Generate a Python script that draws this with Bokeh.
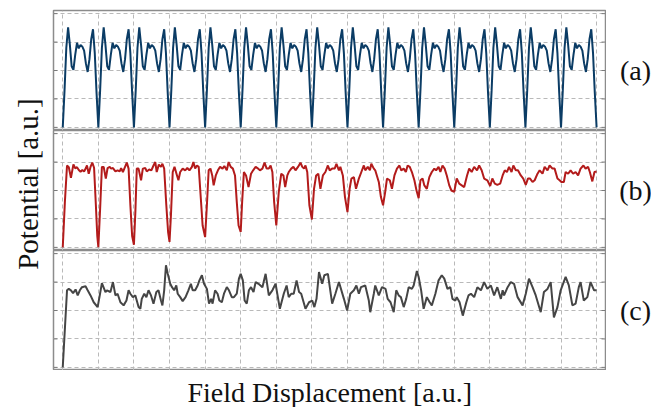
import numpy as np
from bokeh.plotting import figure
from bokeh.layouts import row, column
from bokeh.models import FixedTicker, Label, Range1d
from bokeh.embed import file_html
from bokeh.resources import INLINE

# ---------------- data ----------------
x_ticks = list(range(0, 16))
y_ticks = [0, 1, 2, 3, 4]
panel_tags = ["(a)", "(b)", "(c)"]
x_label = "Field Displacement [a.u.]"
y_label = "Potential [a.u.]"

# (a) sampled every 0.05 field units
a_step = 0.05
a_y = [
    0.00, 1.30, 2.80, 3.52, 2.90, 2.15, 2.02, 2.55, 2.97, 2.78, 2.90, 2.84, 2.70, 2.25, 1.95, 2.40, 3.10, 3.45, 2.60, 1.20,
    0.00, 1.30, 2.80, 3.52, 2.90, 2.15, 2.02, 2.55, 2.97, 2.78, 2.90, 2.84, 2.70, 2.25, 1.95, 2.40, 3.10, 3.45, 2.60, 1.20,
    0.00, 1.30, 2.80, 3.52, 2.90, 2.15, 2.02, 2.55, 2.97, 2.78, 2.90, 2.84, 2.70, 2.25, 1.95, 2.40, 3.10, 3.45, 2.60, 1.20,
    0.00, 1.30, 2.80, 3.52, 2.90, 2.15, 2.02, 2.55, 2.97, 2.78, 2.90, 2.84, 2.70, 2.25, 1.95, 2.40, 3.10, 3.45, 2.60, 1.20,
    0.00, 1.30, 2.80, 3.52, 2.90, 2.15, 2.02, 2.55, 2.97, 2.78, 2.90, 2.84, 2.70, 2.25, 1.95, 2.40, 3.10, 3.45, 2.60, 1.20,
    0.00, 1.30, 2.80, 3.52, 2.90, 2.15, 2.02, 2.55, 2.97, 2.78, 2.90, 2.84, 2.70, 2.25, 1.95, 2.40, 3.10, 3.45, 2.60, 1.20,
    0.00, 1.30, 2.80, 3.52, 2.90, 2.15, 2.02, 2.55, 2.97, 2.78, 2.90, 2.84, 2.70, 2.25, 1.95, 2.40, 3.10, 3.45, 2.60, 1.20,
    0.00, 1.30, 2.80, 3.52, 2.90, 2.15, 2.02, 2.55, 2.97, 2.78, 2.90, 2.84, 2.70, 2.25, 1.95, 2.40, 3.10, 3.45, 2.60, 1.20,
    0.00, 1.30, 2.80, 3.52, 2.90, 2.15, 2.02, 2.55, 2.97, 2.78, 2.90, 2.84, 2.70, 2.25, 1.95, 2.40, 3.10, 3.45, 2.60, 1.20,
    0.00, 1.30, 2.80, 3.52, 2.90, 2.15, 2.02, 2.55, 2.97, 2.78, 2.90, 2.84, 2.70, 2.25, 1.95, 2.40, 3.10, 3.45, 2.60, 1.20,
    0.00, 1.30, 2.80, 3.52, 2.90, 2.15, 2.02, 2.55, 2.97, 2.78, 2.90, 2.84, 2.70, 2.25, 1.95, 2.40, 3.10, 3.45, 2.60, 1.20,
    0.00, 1.30, 2.80, 3.52, 2.90, 2.15, 2.02, 2.55, 2.97, 2.78, 2.90, 2.84, 2.70, 2.25, 1.95, 2.40, 3.10, 3.45, 2.60, 1.20,
    0.00, 1.30, 2.80, 3.52, 2.90, 2.15, 2.02, 2.55, 2.97, 2.78, 2.90, 2.84, 2.70, 2.25, 1.95, 2.40, 3.10, 3.45, 2.60, 1.20,
    0.00, 1.30, 2.80, 3.52, 2.90, 2.15, 2.02, 2.55, 2.97, 2.78, 2.90, 2.84, 2.70, 2.25, 1.95, 2.40, 3.10, 3.45, 2.60, 1.20,
    0.00, 1.30, 2.80, 3.52, 2.90, 2.15, 2.02, 2.55, 2.97, 2.78, 2.90, 2.84, 2.70, 2.25, 1.95, 2.40, 3.10, 3.45, 2.60, 1.20,
    0.00,
]
a_x = np.arange(len(a_y)) * a_step

# (b)
b_x = [
    0.00, 0.06, 0.12, 0.17, 0.23, 0.30, 0.35, 0.40, 0.45, 0.50, 0.55, 0.60, 0.65, 0.68, 0.73, 0.78, 0.83, 0.88, 0.93, 0.97, 1.00,
    1.05, 1.10, 1.15, 1.21, 1.26, 1.32, 1.36, 1.41, 1.48, 1.54, 1.60, 1.64, 1.69, 1.75, 1.80, 1.85, 1.90, 1.95, 2.00,
    2.04, 2.08, 2.13, 2.20, 2.25, 2.32, 2.36, 2.43, 2.49, 2.55, 2.60, 2.64, 2.70, 2.76, 2.80, 2.85, 2.91, 2.96, 3.00,
    3.04, 3.09, 3.14, 3.21, 3.25, 3.30, 3.37, 3.44, 3.50, 3.56, 3.63, 3.67, 3.72, 3.77, 3.82, 3.88, 3.93, 4.00,
    4.05, 4.10, 4.15, 4.20, 4.24, 4.30, 4.36, 4.42, 4.49, 4.54, 4.61, 4.66, 4.72, 4.78, 4.84, 4.89, 4.94, 5.00,
    5.04, 5.09, 5.15, 5.22, 5.29, 5.35, 5.42, 5.49, 5.54, 5.61, 5.67, 5.73, 5.79, 5.84, 5.89, 5.94, 6.00,
    6.07, 6.14, 6.20, 6.25, 6.31, 6.35, 6.42, 6.48, 6.54, 6.61, 6.68, 6.73, 6.78, 6.82, 6.87, 6.93, 7.00,
    7.06, 7.12, 7.18, 7.24, 7.31, 7.38, 7.45, 7.50, 7.57, 7.64, 7.69, 7.76, 7.80, 7.87, 7.93, 8.00,
    8.06, 8.11, 8.18, 8.24, 8.32, 8.39, 8.46, 8.50, 8.57, 8.63, 8.67, 8.74, 8.78, 8.88, 8.94, 9.00,
    9.06, 9.11, 9.19, 9.25, 9.32, 9.39, 9.46, 9.51, 9.58, 9.64, 9.69, 9.75, 9.81, 9.88, 9.94, 10.00,
    10.05, 10.11, 10.16, 10.23, 10.30, 10.37, 10.44, 10.49, 10.56, 10.61, 10.67, 10.73, 10.79, 10.86, 10.92, 11.00,
    11.07, 11.14, 11.21, 11.28, 11.36, 11.42, 11.49, 11.56, 11.64, 11.70, 11.77, 11.84, 11.93, 12.01,
    12.07, 12.14, 12.21, 12.29, 12.36, 12.42, 12.48, 12.54, 12.61, 12.66, 12.73, 12.79, 12.87, 12.94, 13.01,
    13.07, 13.13, 13.20, 13.26, 13.34, 13.40, 13.48, 13.54, 13.62, 13.68, 13.76, 13.82, 13.90, 13.96, 14.01,
    14.08, 14.13, 14.20, 14.27, 14.34, 14.41, 14.48, 14.55, 14.63, 14.69, 14.76, 14.81, 14.88, 14.94, 15.00,
]
b_y = [
    0.00, 1.60, 2.88, 2.82, 2.45, 2.92, 2.78, 2.82, 2.72, 2.66, 2.72, 2.67, 2.79, 2.88, 2.59, 2.83, 2.98, 2.80, 1.50, 0.40, 0.01,
    1.36, 2.83, 2.83, 2.42, 2.79, 2.83, 2.77, 2.79, 2.67, 2.71, 2.67, 2.79, 2.65, 2.83, 2.98, 2.77, 1.48, 0.40, 0.09,
    1.24, 2.77, 2.77, 2.36, 2.77, 2.79, 2.67, 2.74, 2.71, 2.88, 3.00, 2.65, 2.91, 2.83, 2.94, 2.77, 1.48, 0.54, 0.19,
    1.13, 2.65, 2.83, 2.53, 2.36, 2.65, 2.77, 2.71, 2.79, 2.71, 2.83, 3.00, 2.77, 2.88, 2.83, 1.71, 0.77, 0.36,
    1.48, 2.71, 2.77, 2.53, 2.18, 2.53, 2.71, 2.83, 2.77, 2.86, 2.71, 3.00, 2.83, 2.77, 2.53, 1.59, 0.77, 0.54,
    1.59, 2.65, 2.53, 2.12, 2.59, 2.71, 2.83, 2.77, 2.71, 2.77, 2.98, 2.77, 2.77, 2.88, 2.65, 1.59, 0.77,
    1.95, 2.59, 2.53, 2.12, 2.53, 2.65, 2.77, 2.83, 2.71, 2.83, 2.98, 2.83, 2.77, 2.88, 2.65, 1.48, 0.98,
    2.06, 2.53, 2.59, 2.06, 2.53, 2.65, 2.88, 2.71, 2.77, 2.77, 2.94, 2.71, 2.83, 2.53, 1.77, 1.24,
    2.06, 2.42, 2.47, 2.06, 2.42, 2.65, 2.88, 2.71, 2.83, 2.71, 2.94, 2.77, 2.71, 2.30, 1.77, 1.48,
    1.95, 2.42, 2.36, 2.06, 2.53, 2.77, 2.88, 2.71, 2.77, 2.65, 2.88, 2.83, 2.65, 2.36, 2.00, 1.73,
    2.36, 2.42, 2.18, 2.06, 2.47, 2.65, 2.77, 2.71, 2.83, 2.65, 2.88, 2.77, 2.53, 2.18, 2.00, 1.95,
    2.42, 2.24, 2.18, 2.12, 2.53, 2.77, 2.65, 2.83, 2.71, 2.88, 2.71, 2.42, 2.36, 2.16,
    2.42, 2.24, 2.20, 2.24, 2.53, 2.71, 2.65, 2.83, 2.65, 2.88, 2.71, 2.71, 2.53, 2.42, 2.20,
    2.42, 2.42, 2.30, 2.36, 2.59, 2.71, 2.59, 2.83, 2.71, 2.88, 2.77, 2.77, 2.42, 2.36, 2.30,
    2.30, 2.65, 2.59, 2.71, 2.59, 2.65, 2.53, 2.77, 2.88, 2.77, 2.83, 2.65, 2.32, 2.65, 2.67,
]

# (c)
c_x = [
    0.00, 0.12, 0.17, 0.23, 0.29, 0.36, 0.42, 0.48, 0.54, 0.64, 0.70, 0.78, 0.87, 0.98, 1.04, 1.10, 1.20, 1.24, 1.34, 1.41,
    1.48, 1.54, 1.62, 1.71, 1.79, 1.85, 1.90, 1.97, 2.04, 2.13, 2.18, 2.22, 2.29, 2.35, 2.41, 2.48, 2.55, 2.63, 2.69, 2.76,
    2.80, 2.85, 2.90, 2.95, 3.02, 3.07, 3.13, 3.19, 3.23, 3.30, 3.37, 3.45, 3.53, 3.60, 3.65, 3.72, 3.79, 3.84, 3.91, 3.97,
    4.05, 4.11, 4.17, 4.21, 4.28, 4.35, 4.40, 4.47, 4.53, 4.61, 4.67, 4.75, 4.81, 4.89, 4.95, 5.00, 5.06, 5.11, 5.17, 5.23,
    5.29, 5.36, 5.42, 5.50, 5.61, 5.70, 5.79, 5.89, 5.98, 6.10, 6.21, 6.29, 6.35, 6.42, 6.49, 6.57, 6.64, 6.70, 6.82, 6.92,
    7.01, 7.07, 7.13, 7.20, 7.29, 7.35, 7.45, 7.57, 7.66, 7.76, 7.90, 7.99, 8.08, 8.18, 8.25, 8.32, 8.38, 8.50, 8.60, 8.64,
    8.74, 8.78, 8.88, 8.97, 9.07, 9.13, 9.21, 9.30, 9.37, 9.44, 9.50, 9.58, 9.65, 9.72, 9.81, 9.86, 9.95, 10.00, 10.07, 10.14,
    10.23, 10.31, 10.37, 10.47, 10.56, 10.65, 10.72, 10.81, 10.89, 10.95, 11.03, 11.07, 11.15, 11.24, 11.34, 11.40, 11.47, 11.56, 11.65, 11.75,
    11.84, 11.93, 12.03, 12.12, 12.21, 12.31, 12.36, 12.40, 12.50, 12.59, 12.68, 12.78, 12.92, 13.01, 13.10, 13.20, 13.29, 13.43, 13.52, 13.62,
    13.71, 13.80, 13.90, 13.99, 14.13, 14.22, 14.32, 14.41, 14.50, 14.55, 14.64, 14.74, 14.83, 14.93, 15.00,
]
c_y = [
    0.00, 2.71, 2.76, 2.71, 2.61, 2.74, 2.53, 2.71, 2.82, 2.85, 2.71, 2.53, 2.29, 2.12, 2.53, 2.96, 2.65, 2.71, 2.65, 3.00,
    2.53, 2.59, 2.29, 2.18, 2.35, 2.71, 2.59, 2.47, 2.53, 2.12, 2.06, 2.41, 2.59, 2.47, 2.71, 2.53, 2.24, 2.65, 2.71, 2.35,
    2.18, 2.71, 3.59, 3.29, 2.94, 2.82, 2.71, 2.88, 2.59, 2.47, 2.33, 2.47, 2.71, 2.94, 2.71, 2.71, 2.88, 3.06, 3.24, 2.94,
    2.76, 2.24, 2.41, 2.24, 2.71, 2.59, 2.35, 2.29, 2.59, 2.82, 2.71, 2.47, 2.47, 2.59, 3.12, 3.29, 3.06, 2.35, 2.24, 2.71,
    2.82, 2.65, 3.00, 2.94, 2.82, 3.29, 2.53, 2.71, 2.94, 2.06, 2.59, 2.88, 2.47, 2.59, 2.59, 3.06, 2.65, 2.59, 2.06, 2.29,
    2.35, 2.12, 2.41, 3.35, 2.94, 3.24, 3.29, 2.24, 2.59, 3.00, 2.41, 2.00, 2.59, 2.71, 2.88, 2.59, 2.82, 2.88, 2.35, 1.94,
    2.59, 2.88, 2.53, 2.82, 2.76, 2.41, 2.29, 1.94, 2.71, 2.53, 2.47, 2.12, 2.41, 2.82, 2.76, 2.88, 3.39, 3.18, 2.71, 2.06,
    2.47, 2.29, 2.18, 2.59, 3.06, 3.24, 3.12, 2.76, 2.82, 2.41, 2.35, 2.47, 2.29, 1.82, 2.29, 2.53, 2.59, 2.47, 2.82, 2.71,
    3.00, 2.76, 2.88, 2.53, 2.82, 2.41, 2.71, 2.53, 2.82, 3.00, 2.94, 2.47, 2.18, 2.59, 3.12, 2.82, 2.53, 1.94, 2.65, 2.76,
    3.00, 1.76, 2.12, 2.71, 3.18, 2.88, 2.18, 2.24, 2.82, 3.00, 2.35, 2.47, 3.00, 2.71, 2.71,
]

series = [(a_x, a_y, "#0b3c65"), (b_x, b_y, "#b31b1b"), (c_x, c_y, "#454545")]

# ---------------- styling / layout ----------------
FONT = "Liberation Serif"
FS_YTITLE = "29px"
FS_XTITLE = "28px"
FS_TAG = "28px"
TEXT_COLOR = "#111111"
GRID_COLOR = "#b9b9b9"
FRAME_COLOR = "#8c8c8c"
TICK_COLOR = "#7a7a7a"
X_LO, X_HI = -0.26, 15.25
Y_LO, Y_HI = -0.11, 4.11
TOTAL_H = 407


def bare(p):
    p.grid.visible = False
    p.outline_line_color = None
    p.background_fill_color = "white"
    p.border_fill_color = "white"
    return p


heights = [130, 120, 120]
tops = [10, 0, 0]

panels = []
for i, (xs, ys, col) in enumerate(series):
    p = figure(width=558, height=heights[i],
               x_range=Range1d(X_LO, X_HI), y_range=Range1d(Y_LO, Y_HI),
               output_backend="svg", toolbar_location=None,
               x_axis_location=None, y_axis_location=None,
               min_border_left=5, min_border_right=1,
               min_border_top=tops[i], min_border_bottom=0)
    p.xgrid.ticker = FixedTicker(ticks=x_ticks)
    p.ygrid.ticker = FixedTicker(ticks=y_ticks)
    for g in (p.xgrid, p.ygrid):
        g.grid_line_color = GRID_COLOR
        g.grid_line_dash = "4 3"
        g.grid_line_width = 1
    p.outline_line_color = FRAME_COLOR
    p.outline_line_width = 1.5
    p.background_fill_color = "white"
    p.border_fill_color = "white"
    # inward tick marks on the left and right frame edges
    p.ray(x=[X_LO] * len(y_ticks), y=y_ticks, length=4, length_units="screen",
          angle=0, line_color=TICK_COLOR, line_width=1)
    p.ray(x=[X_HI] * len(y_ticks), y=y_ticks, length=4, length_units="screen",
          angle=np.pi, line_color=TICK_COLOR, line_width=1)
    p.line(xs, ys, line_color=col, line_width=2)
    panels.append(p)

# bottom axis title
bot = bare(figure(width=558, height=37, x_range=Range1d(X_LO, X_HI), y_range=Range1d(0, 37),
                  output_backend="svg", toolbar_location=None,
                  x_axis_location=None, y_axis_location=None,
                  min_border_left=5, min_border_right=1, min_border_top=0, min_border_bottom=0))
bot.add_layout(Label(x=7.5, y=15, text=x_label, text_align="center",
                     text_baseline="middle", text_font=FONT,
                     text_font_size=FS_XTITLE, text_color=TEXT_COLOR))

# left axis title
lab = bare(figure(width=48, height=TOTAL_H, x_range=Range1d(0, 48), y_range=Range1d(0, TOTAL_H),
                  output_backend="svg", toolbar_location=None,
                  x_axis_location=None, y_axis_location=None,
                  min_border_left=0, min_border_right=0, min_border_top=0, min_border_bottom=0))
lab.add_layout(Label(x=27, y=TOTAL_H - 183.5, text=y_label, angle=np.pi / 2, text_align="center",
                     text_baseline="middle", text_font=FONT, text_font_size=FS_YTITLE,
                     text_color=TEXT_COLOR))

# right panel tags
tag = bare(figure(width=45, height=TOTAL_H, x_range=Range1d(0, 45), y_range=Range1d(0, TOTAL_H),
                  output_backend="svg", toolbar_location=None,
                  x_axis_location=None, y_axis_location=None,
                  min_border_left=0, min_border_right=0, min_border_top=0, min_border_bottom=0))
for t, yy in zip(panel_tags, [70, 190, 310]):
    tag.add_layout(Label(x=29, y=TOTAL_H - yy, text=t, text_align="center", text_baseline="middle",
                         text_font=FONT, text_font_size=FS_TAG, text_color=TEXT_COLOR))

layout = row(lab, column(*panels, bot, spacing=0), tag, spacing=0)

open("out.html", "w").write(file_html(layout, INLINE))
